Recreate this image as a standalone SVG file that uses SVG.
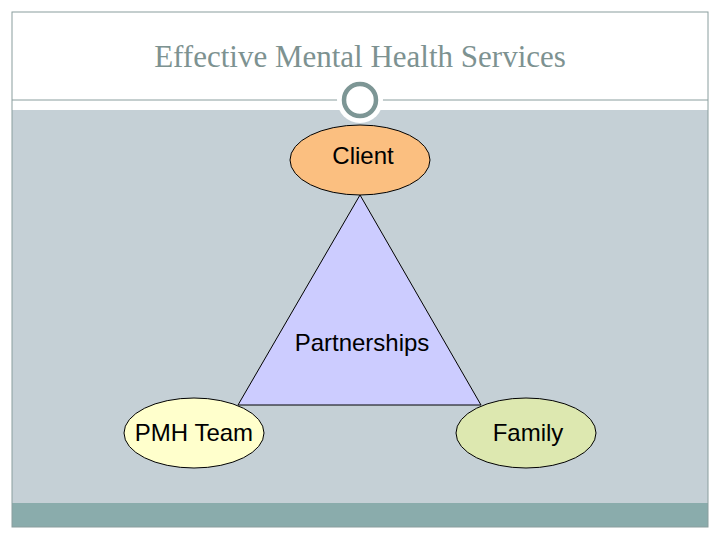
<svg xmlns="http://www.w3.org/2000/svg" width="720" height="540" viewBox="0 0 720 540">
<style>
.node{stroke:#000;stroke-width:1}
.lbl{font-family:"Liberation Sans",Arial,sans-serif;font-size:24px;fill:#000;text-anchor:middle}
.title{font-family:"Liberation Serif","Times New Roman",serif;font-size:31px;fill:#7D9291;text-anchor:middle}
</style>
<rect x="0" y="0" width="720" height="540" fill="#fff"/>
<rect x="12" y="110" width="696" height="393" fill="#C5D0D6"/>
<rect x="12" y="503" width="696" height="24" fill="#8AACAC"/>
<rect x="12" y="12" width="696" height="515" fill="none" stroke="#8A9E9E" stroke-width="1"/>
<line x1="12" y1="100" x2="708" y2="100" stroke="#8A9E9E" stroke-width="1"/>
<circle cx="360" cy="100" r="23" fill="#fff"/>
<circle cx="360" cy="100" r="16" fill="#fff" stroke="#7D9695" stroke-width="4.5"/>
<text class="title" x="360" y="67">Effective Mental Health Services</text>
<g id="connectors"></g>
<g id="partnerships">
<polygon class="node" points="360,195 238,405 481,405" fill="#CCCCFF"/>
<text class="lbl" x="362" y="351">Partnerships</text>
</g>
<g id="client">
<ellipse class="node" cx="360" cy="160" rx="70" ry="35" fill="#FBBF80"/>
<text class="lbl" x="363" y="164">Client</text>
</g>
<g id="pmh">
<ellipse class="node" cx="194" cy="433" rx="70" ry="35" fill="#FFFFCC"/>
<text class="lbl" x="194" y="441">PMH Team</text>
</g>
<g id="family">
<ellipse class="node" cx="526" cy="433" rx="70" ry="35" fill="#DDE8B0"/>
<text class="lbl" x="528" y="441">Family</text>
</g>
</svg>
